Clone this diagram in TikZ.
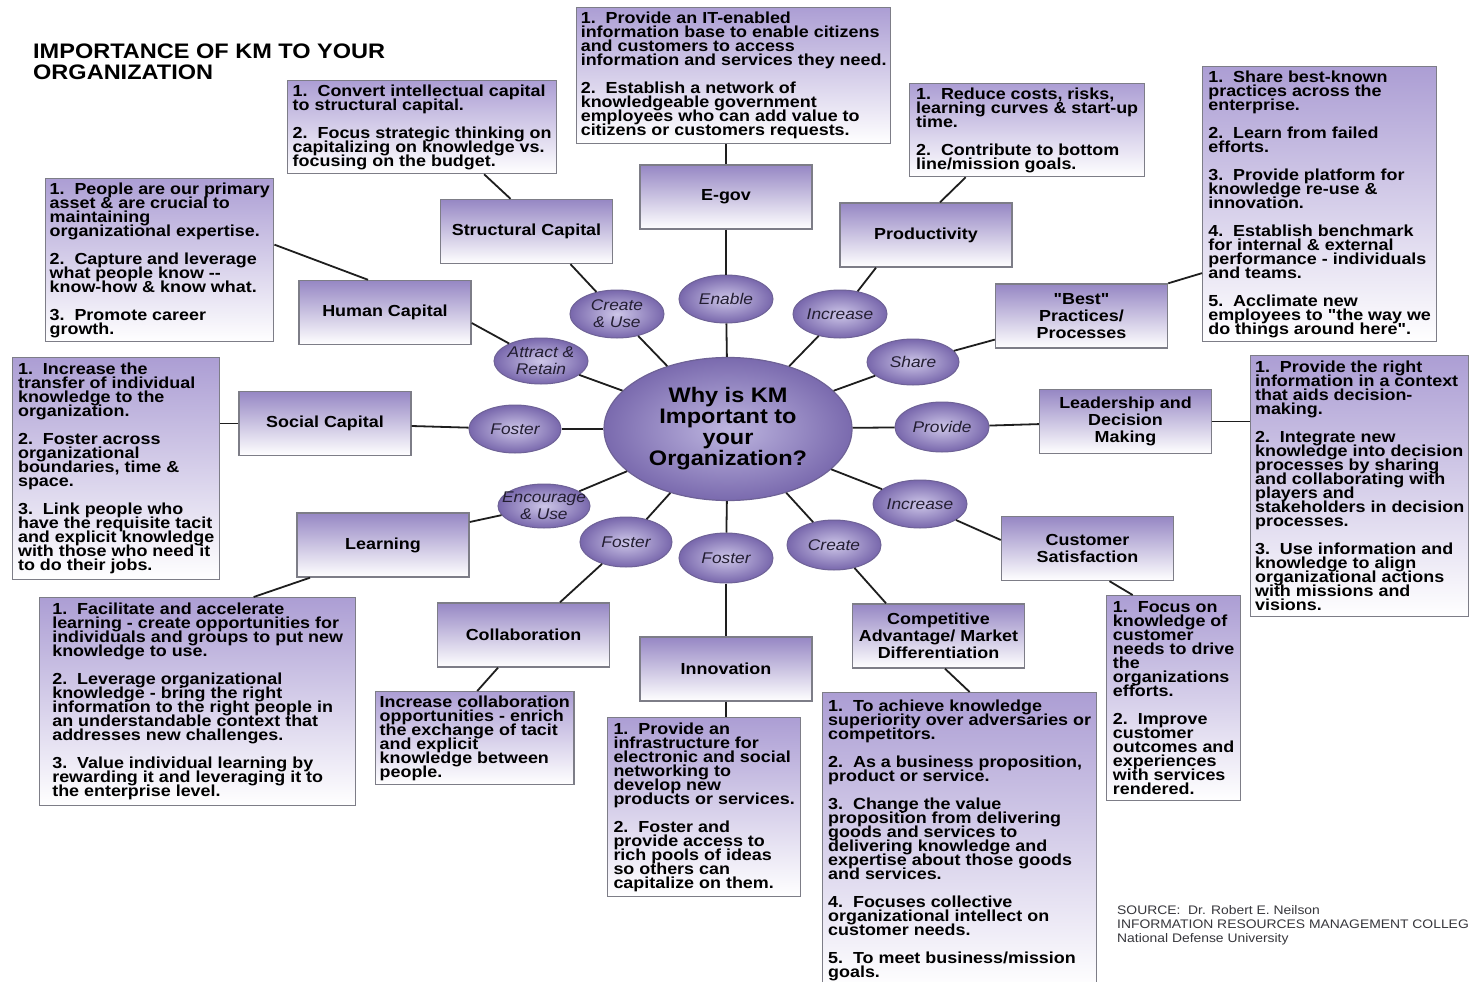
\documentclass[tikz,border=0pt]{standalone}
\usepackage{fontspec}
\setmainfont{Liberation Sans}[FakeStretch=1.12]
\newfontfamily\qf{Liberation Sans}[FakeStretch=1.12]
\usetikzlibrary{shapes.geometric}
\definecolor{boxtop}{RGB}{150,135,196}
\definecolor{txttop}{RGB}{172,158,212}
\definecolor{ellin}{RGB}{205,198,232}
\definecolor{ellout}{RGB}{120,103,172}
\definecolor{bord}{RGB}{125,125,135}
\definecolor{ovbord}{RGB}{110,98,150}
\definecolor{linec}{RGB}{30,30,30}
\definecolor{srcc}{RGB}{55,55,60}
\newcommand{\dq}{{\qf"}}
\newcommand{\tls}{\lineskiplimit=-30pt\relax}
\begin{document}
\begin{tikzpicture}[x=1pt,y=-1pt,
  txtbox/.style={draw=bord, line width=1.3pt, top color=txttop, bottom color=white,
    anchor=north west, align=left, inner sep=4pt, text=black,
    font=\fontsize{16}{14}\selectfont\bfseries\tls},
  catbox/.style={draw=bord, line width=1.4pt, top color=boxtop, bottom color=white,
    minimum width=172pt, minimum height=64pt, align=center, inner sep=2pt, text=black,
    font=\fontsize{16}{17}\selectfont\bfseries\tls},
  oval/.style={ellipse, draw=ovbord, line width=1pt, inner color=ellin, outer color=ellout,
    inner sep=0pt, minimum width=94pt, minimum height=48pt},
  ovtxt/.style={font=\fontsize{15.5}{17}\selectfont\itshape\tls, text={rgb,255:red,35;green,30;blue,50}, align=center, inner sep=0pt},
  link/.style={draw=linec, line width=1.8pt}
]
\useasboundingbox (0,0) rectangle (1470,982);
\fill[white] (0,0) rectangle (1470,982);

% title
\node[anchor=north west, align=left, inner sep=0pt, font=\fontsize{21}{21}\selectfont\bfseries\tls] (title) at (33,44)
  {IMPORTANCE OF KM TO YOUR\\ORGANIZATION};

% text boxes
\node[txtbox, minimum width=269pt, minimum height=92pt] (sctext) at (287,80)
  {1.~~Convert intellectual capital\\to structural capital.\\[14pt]2.~~Focus strategic thinking on\\capitalizing on knowledge vs.\\focusing on the budget.};
\node[txtbox, minimum width=228pt, minimum height=161pt] (hctext) at (45,178)
  {1.~~People are our primary\\asset \& are crucial to\\maintaining\\organizational expertise.\\[14pt]2.~~Capture and leverage\\what people know -{}-\\know-how \& know what.\\[14pt]3.~~Promote career\\growth.};
\node[txtbox, minimum width=314pt, minimum height=136pt] (egtext) at (576,7)
  {1.~~Provide an IT-enabled\\information base to enable citizens\\and customers to access\\information and services they need.\\[14pt]2.~~Establish a network of\\knowledgeable government\\employees who can add value to\\citizens or customers requests.};
\node[txtbox, minimum width=235pt, minimum height=93pt] (prtext) at (909,83)
  {1.~~Reduce costs, risks,\\learning curves \& start-up\\time.\\[14pt]2.~~Contribute to bottom\\line/mission goals.};
\node[txtbox, minimum width=234pt, minimum height=274pt] (bptext) at (1202,66)
  {1.~~Share best-known\\practices across the\\enterprise.\\[14pt]2.~~Learn from failed\\efforts.\\[14pt]3.~~Provide platform for\\knowledge re-use \&\\innovation.\\[14pt]4.~~Establish benchmark\\for internal \& external\\performance - individuals\\and teams.\\[14pt]5.~~Acclimate new\\employees to \dq the way we\\do things around here\dq.};
\node[txtbox, minimum width=218pt, minimum height=261pt] (ldtext) at (1250,355)
  {1.~~Provide the right\\information in a context\\that aids decision-\\making.\\[14pt]2.~~Integrate new\\knowledge into decision\\processes by sharing\\and collaborating with\\players and\\stakeholders in decision\\processes.\\[14pt]3.~~Use information and\\knowledge to align\\organizational actions\\with missions and\\visions.};
\node[txtbox, minimum width=134pt, minimum height=205pt] (cstext) at (1106,595)
  {1.~~Focus on\\knowledge of\\customer\\needs to drive\\the\\organizations\\efforts.\\[14pt]2.~~Improve\\customer\\outcomes and\\experiences\\with services\\rendered.};
\node[txtbox, minimum width=274pt, minimum height=295pt] (catext) at (822,692)
  {1.~~To achieve knowledge\\superiority over adversaries or\\competitors.\\[14pt]2.~~As a business proposition,\\product or service.\\[14pt]3.~~Change the value\\proposition from delivering\\goods and services to\\delivering knowledge and\\expertise about those goods\\and services.\\[14pt]4.~~Focuses collective\\organizational intellect on\\customer needs.\\[14pt]5.~~To meet business/mission\\goals.};
\node[txtbox, minimum width=193pt, minimum height=179pt] (intext) at (607,717)
  {1.~~Provide an\\infrastructure for\\electronic and social\\networking to\\develop new\\products or services.\\[14pt]2.~~Foster and\\provide access to\\rich pools of ideas\\so others can\\capitalize on them.};
\node[txtbox, minimum width=197pt, minimum height=93pt] (cotext) at (375,691)
  {Increase collaboration\\opportunities - enrich\\the exchange of tacit\\and explicit\\knowledge between\\people.};
\node[txtbox, minimum width=316pt, minimum height=208pt] (letext) at (39,597)
  {1.~~Facilitate and accelerate\\learning - create opportunities for\\individuals and groups to put new\\knowledge to use.\\[14pt]2.~~Leverage organizational\\knowledge - bring the right\\information to the right people in\\an understandable context that\\addresses new challenges.\\[14pt]3.~~Value individual learning by\\rewarding it and leveraging it to\\the enterprise level.};
\node[txtbox, minimum width=207pt, minimum height=222pt] (sotext) at (12,357)
  {1.~~Increase the\\transfer of individual\\knowledge to the\\organization.\\[14pt]2.~~Foster across\\organizational\\boundaries, time \&\\space.\\[14pt]3.~~Link people who\\have the requisite tacit\\and explicit knowledge\\with those who need it\\to do their jobs.};

% category boxes
\node[catbox] (sc) at (526.5,231.5) {Structural Capital};
\node[catbox] (hc) at (385,312.5) {Human Capital};
\node[catbox] (eg) at (726,197) {E-gov};
\node[catbox] (pr) at (926,235) {Productivity};
\node[catbox] (bp) at (1081.5,316) {\dq Best\dq\\Practices/\\Processes};
\node[catbox] (ld) at (1125.5,421.5) {Leadership and\\Decision\\Making};
\node[catbox] (cs) at (1087.5,548.5) {Customer\\Satisfaction};
\node[catbox] (ca) at (938.5,636) {Competitive\\Advantage/ Market\\Differentiation};
\node[catbox] (in) at (726,669) {Innovation};
\node[catbox] (co) at (523.5,635) {Collaboration};
\node[catbox] (le) at (383,545) {Learning};
\node[catbox] (so) at (325,423.5) {Social Capital};

% centre
\node[ellipse, draw=ovbord, line width=1.2pt, inner color={rgb,255:red,190;green,182;blue,224}, outer color={rgb,255:red,122;green,106;blue,174},
  inner sep=0pt, minimum width=248pt, minimum height=143pt, align=center,
  font=\fontsize{21}{21}\selectfont\bfseries\tls] (c) at (728,429)
  {Why is KM\\Important to\\your\\Organization?};

% verb ovals
\node[oval, label={[ovtxt]center:{Create\\\& Use}}] (cu) at (617,314) {};
\node[oval, label={[ovtxt]center:{Enable}}] (en) at (726,299) {};
\node[oval, label={[ovtxt]center:{Increase}}] (inc1) at (840,314) {};
\node[oval, minimum width=92pt, minimum height=46pt, label={[ovtxt]center:{Share}}] (sh) at (913,362) {};
\node[oval, minimum height=46pt, label={[ovtxt]center:{Attract \&\\Retain}}] (ar) at (541,361) {};
\node[oval, minimum width=92pt, label={[ovtxt]center:{Foster}}] (fo1) at (515,429) {};
\node[oval, minimum height=50pt, label={[ovtxt]center:{Provide}}] (pv) at (942,427) {};
\node[oval, minimum width=92pt, minimum height=44pt, label={[ovtxt]center:{Encourage\\\& Use}}] (eu) at (544,506) {};
\node[oval, minimum width=92pt, minimum height=50pt, label={[ovtxt]center:{Foster}}] (fo2) at (626,542) {};
\node[oval, minimum height=50pt, label={[ovtxt]center:{Foster}}] (fo3) at (726,558) {};
\node[oval, minimum height=50pt, label={[ovtxt]center:{Create}}] (cr) at (834,545) {};
\node[oval, label={[ovtxt]center:{Increase}}] (inc2) at (920,504) {};

% source
\node[anchor=north west, align=left, inner sep=0pt, text=srcc, font=\fontsize{12.4}{14}\selectfont\tls] (src) at (1117,905)
  {SOURCE:~~Dr. Robert E. Neilson\\INFORMATION RESOURCES MANAGEMENT COLLEG\\National Defense University};

% connectors: centre to verbs
\foreach \v in {cu,en,inc1,sh,ar,fo1,pv,eu,fo2,fo3,cr,inc2}
  \draw[link] (c) -- (\v);

% verbs to categories
\draw[link] ([xshift=44pt]sc.south) -- (cu);
\draw[link] ([yshift=-10.5pt]hc.east) -- (ar);
\draw[link] (eg) -- (en);
\draw[link] ([xshift=-50pt]pr.south) -- (inc1);
\draw[link] (sh) -- (bp);
\draw[link] (pv) -- (ld);
\draw[link] (inc2) -- ([yshift=8.5pt]cs.west);
\draw[link] (cr) -- ([xshift=-52.5pt]ca.north);
\draw[link] (fo3) -- (in);
\draw[link] (fo2) -- ([xshift=36.5pt]co.north);
\draw[link] (eu) -- ([yshift=23pt]le.east);
\draw[link] (fo1) -- (so);

% categories to text boxes
\draw[link] ([xshift=62pt]sctext.south) -- ([xshift=-16pt]sc.north);
\draw[link] ([yshift=15.5pt]hctext.east) -- ([xshift=-17pt]hc.north);
\draw[link] (egtext.south -| eg.north) -- (eg.north);
\draw[link] ([xshift=-61.5pt]prtext.south) -- ([xshift=14pt]pr.north);
\draw[link] (bp.north east) -- ([yshift=-69pt]bptext.west);
\draw[link] (ld.east) -- (ld.east -| ldtext.west);
\draw[link] ([xshift=22pt]cs.south) -- ([xshift=-41pt]cstext.north);
\draw[link] ([xshift=6.5pt]ca.south) -- ([xshift=10pt]catext.north);
\draw[link] (in.south) -- (in.south |- intext.north);
\draw[link] ([xshift=-25.5pt]co.south) -- ([xshift=2.5pt]cotext.north);
\draw[link] ([xshift=-73pt]le.south) -- ([xshift=56pt]letext.north);
\draw[link] (so.west) -- (so.west -| sotext.east);
\end{tikzpicture}
\end{document}
